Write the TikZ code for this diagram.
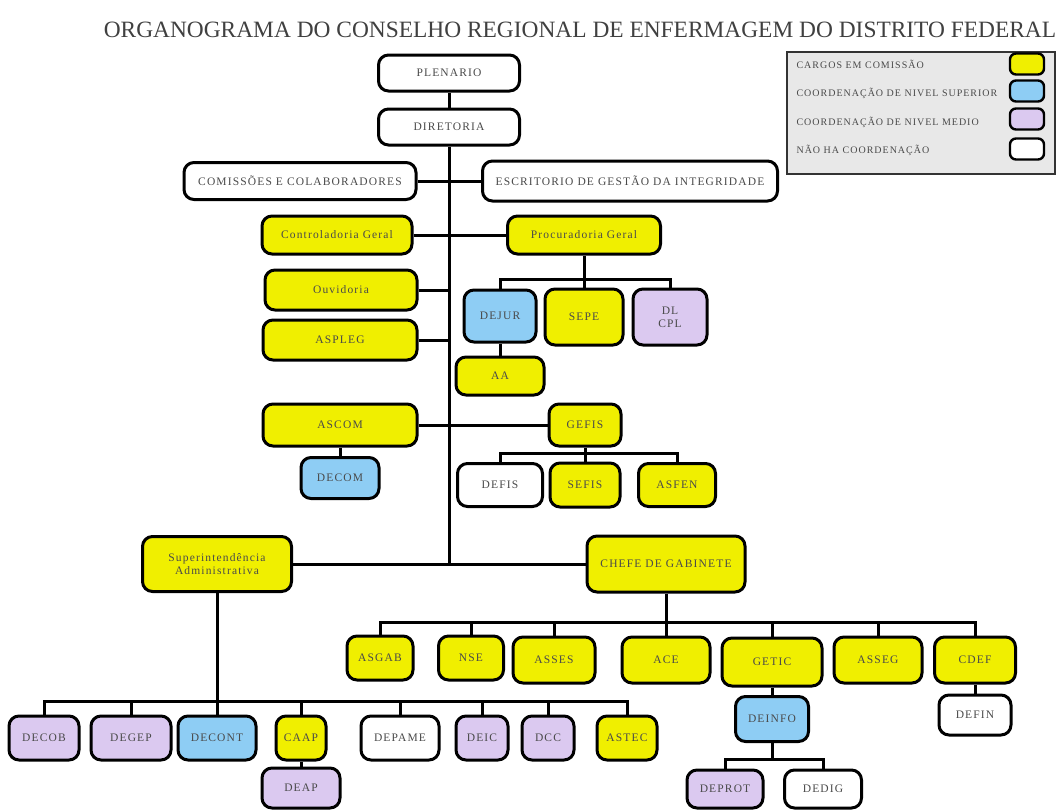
\documentclass[tikz,border=0pt]{standalone}
\usepackage{fontspec}
\setmainfont{Liberation Serif}
\newfontfamily\caixafont[LetterSpace=10]{Liberation Serif}
\usepackage{xcolor}
\definecolor{corcargo}{HTML}{F0EF00}
\definecolor{corsuperior}{HTML}{8ECDF4}
\definecolor{cormedio}{HTML}{DBC9F0}
\definecolor{corlegenda}{HTML}{E8E8E8}
\definecolor{cortexto}{HTML}{4A4A4A}

\tikzset{
    caixa/.style = {draw, rectangle, rounded corners = 10pt, line width = 3pt, inner sep = 1pt, align = center, text = cortexto, font = \caixafont\fontsize{11.5}{13}\selectfont},
    cargo/.style = {caixa, fill = corcargo},
    superior/.style = {caixa, fill = corsuperior},
    medio/.style = {caixa, fill = cormedio},
    semcoord/.style = {caixa, fill = white},
    amostra/.style = {draw, rectangle, rounded corners = 6pt, line width = 2.4pt, minimum width = 34pt, minimum height = 21pt},
    legenda/.style = {anchor = west, text = cortexto, font = \caixafont\fontsize{10}{11}\selectfont},
    ligacao/.style = {line width = 3pt},
}

\begin{document}
\begin{tikzpicture}

        \useasboundingbox (0pt, 0pt) rectangle (1058pt, -809pt);

        \node [anchor = base, text = black!75, font = \fontsize{23.4}{26}\selectfont] (titulo) at (580pt, -37pt) {ORGANOGRAMA DO CONSELHO REGIONAL DE ENFERMAGEM DO DISTRITO FEDERAL};

        % Legenda
        \draw [fill = corlegenda, draw = black!80, line width = 1.5pt] (787pt, -52pt) rectangle (1055pt, -174pt);
        \node [legenda] (leg1) at (793pt, -64pt) {CARGOS EM COMISSÃO};
        \node [legenda] (leg2) at (793pt, -93pt) {COORDENAÇÃO DE NIVEL SUPERIOR};
        \node [legenda] (leg3) at (793pt, -122pt) {COORDENAÇÃO DE NIVEL MEDIO};
        \node [legenda] (leg4) at (793pt, -150pt) {NÃO HA COORDENAÇÃO};
        \node [amostra, fill = corcargo] (amostra1) at (1027pt, -64pt) {};
        \node [amostra, fill = corsuperior] (amostra2) at (1027pt, -91pt) {};
        \node [amostra, fill = cormedio] (amostra3) at (1027pt, -119pt) {};
        \node [amostra, fill = white] (amostra4) at (1027pt, -149pt) {};

        % Topo
        \node [semcoord, minimum width = 141pt, minimum height = 36pt] (plenario) at (449pt, -73pt) {PLENARIO};
        \node [semcoord, minimum width = 141pt, minimum height = 36pt] (diretoria) at (449pt, -127pt) {DIRETORIA};
        \node [semcoord, minimum width = 232pt, minimum height = 37pt] (comissoes) at (300pt, -181pt) {COMISSÕES E COLABORADORES};
        \node [semcoord, minimum width = 295pt, minimum height = 40pt] (escritorio) at (630pt, -181pt) {ESCRITORIO DE GESTÃO DA INTEGRIDADE};
        \node [cargo, minimum width = 150pt, minimum height = 38pt] (controladoria) at (337pt, -235pt) {Controladoria Geral};
        \node [cargo, minimum width = 153pt, minimum height = 38pt] (procuradoria) at (584pt, -235pt) {Procuradoria Geral};
        \node [cargo, minimum width = 152pt, minimum height = 40pt] (ouvidoria) at (341pt, -290pt) {Ouvidoria};
        \node [cargo, minimum width = 154pt, minimum height = 40pt] (aspleg) at (340pt, -340pt) {ASPLEG};

        % Procuradoria
        \node [superior, minimum width = 72pt, minimum height = 52pt] (dejur) at (500pt, -316pt) {DEJUR};
        \node [cargo, minimum width = 78pt, minimum height = 56pt] (sepe) at (584pt, -317pt) {SEPE};
        \node [medio, minimum width = 74pt, minimum height = 56pt] (dlcpl) at (670pt, -317pt) {DL\\CPL};
        \node [cargo, minimum width = 88pt, minimum height = 38pt] (aa) at (500pt, -376pt) {AA};

        % ASCOM e GEFIS
        \node [cargo, minimum width = 154pt, minimum height = 42pt] (ascom) at (340pt, -425pt) {ASCOM};
        \node [superior, minimum width = 78pt, minimum height = 41pt] (decom) at (340pt, -478pt) {DECOM};
        \node [cargo, minimum width = 72pt, minimum height = 42pt] (gefis) at (585pt, -425pt) {GEFIS};
        \node [semcoord, minimum width = 85pt, minimum height = 43pt] (defis) at (500pt, -485pt) {DEFIS};
        \node [cargo, minimum width = 70pt, minimum height = 44pt] (sefis) at (585pt, -485pt) {SEFIS};
        \node [cargo, minimum width = 77pt, minimum height = 43pt] (asfen) at (677pt, -485pt) {ASFEN};

        % Superintendencia e Chefe de Gabinete
        \node [cargo, minimum width = 149pt, minimum height = 55pt] (superint) at (217pt, -564pt) {Superintendência\\Administrativa};
        \node [cargo, minimum width = 158pt, minimum height = 56pt] (chefe) at (666pt, -564pt) {CHEFE DE GABINETE};

        \node [cargo, minimum width = 66pt, minimum height = 44pt] (asgab) at (380pt, -658pt) {ASGAB};
        \node [cargo, minimum width = 65pt, minimum height = 44pt] (nse) at (471pt, -658pt) {NSE};
        \node [cargo, minimum width = 82pt, minimum height = 46pt] (asses) at (554pt, -660pt) {ASSES};
        \node [cargo, minimum width = 88pt, minimum height = 46pt] (ace) at (666pt, -660pt) {ACE};
        \node [cargo, minimum width = 100pt, minimum height = 48pt] (getic) at (772pt, -662pt) {GETIC};
        \node [cargo, minimum width = 88pt, minimum height = 46pt] (asseg) at (878pt, -660pt) {ASSEG};
        \node [cargo, minimum width = 81pt, minimum height = 46pt] (cdef) at (975pt, -660pt) {CDEF};
        \node [superior, minimum width = 73pt, minimum height = 45pt] (deinfo) at (772pt, -719pt) {DEINFO};
        \node [medio, minimum width = 76pt, minimum height = 38pt] (deprot) at (725pt, -789pt) {DEPROT};
        \node [semcoord, minimum width = 77pt, minimum height = 38pt] (dedig) at (823pt, -789pt) {DEDIG};
        \node [semcoord, minimum width = 72pt, minimum height = 40pt] (defin) at (975pt, -715pt) {DEFIN};

        \node [medio, minimum width = 70pt, minimum height = 44pt] (decob) at (44pt, -738pt) {DECOB};
        \node [medio, minimum width = 80pt, minimum height = 44pt] (degep) at (131pt, -738pt) {DEGEP};
        \node [superior, minimum width = 78pt, minimum height = 44pt] (decont) at (217pt, -738pt) {DECONT};
        \node [cargo, minimum width = 50pt, minimum height = 44pt] (caap) at (301pt, -738pt) {CAAP};
        \node [semcoord, minimum width = 78pt, minimum height = 44pt] (depame) at (400pt, -738pt) {DEPAME};
        \node [medio, minimum width = 52pt, minimum height = 44pt] (deic) at (482pt, -738pt) {DEIC};
        \node [medio, minimum width = 52pt, minimum height = 44pt] (dcc) at (548pt, -738pt) {DCC};
        \node [cargo, minimum width = 60pt, minimum height = 44pt] (astec) at (627pt, -738pt) {ASTEC};
        \node [medio, minimum width = 78pt, minimum height = 40pt] (deap) at (301pt, -788pt) {DEAP};

        \coordinate (tronco) at (449pt, -564pt);
        \coordinate (pbus) at (0pt, -279pt);
        \coordinate (gbus) at (0pt, -453pt);
        \coordinate (cbus) at (0pt, -622pt);
        \coordinate (sbus) at (0pt, -701pt);
        \coordinate (ibus) at (0pt, -759pt);

        % Tronco
        \draw [ligacao] (plenario) -- (diretoria);
        \draw [ligacao] (diretoria) -- (tronco);
        \draw [ligacao] (comissoes) -- (escritorio);
        \draw [ligacao] (controladoria) -- (procuradoria);
        \draw [ligacao] (ouvidoria) -- (ouvidoria -| tronco);
        \draw [ligacao] (aspleg) -- (aspleg -| tronco);
        \draw [ligacao] (ascom) -- (gefis);
        \draw [ligacao] (superint) -- (chefe);

        % Ramos
        \draw [ligacao] (dejur) |- (dlcpl |- pbus) -- (dlcpl);
        \draw [ligacao] (procuradoria) -- (sepe);
        \draw [ligacao] (dejur) -- (aa);
        \draw [ligacao] (ascom) -- (decom);
        \draw [ligacao] (defis) |- (asfen |- gbus) -- (asfen);
        \draw [ligacao] (gefis) -- (sefis);

        \draw [ligacao] (asgab) |- (cdef |- cbus) -- (cdef);
        \draw [ligacao] (chefe) -- (ace);
        \foreach \n in {nse, asses, getic, asseg}
            \draw [ligacao] (\n) -- (\n |- cbus);
        \draw [ligacao] (getic) -- (deinfo);
        \draw [ligacao] (deprot) |- (dedig |- ibus) -- (dedig);
        \draw [ligacao] (deinfo) -- (deinfo |- ibus);
        \draw [ligacao] (cdef) -- (defin);

        \draw [ligacao] (decob) |- (astec |- sbus) -- (astec);
        \draw [ligacao] (superint) -- (decont);
        \foreach \n in {degep, caap, depame, deic, dcc}
            \draw [ligacao] (\n) -- (\n |- sbus);
        \draw [ligacao] (caap) -- (deap);

\end{tikzpicture}
\end{document}
